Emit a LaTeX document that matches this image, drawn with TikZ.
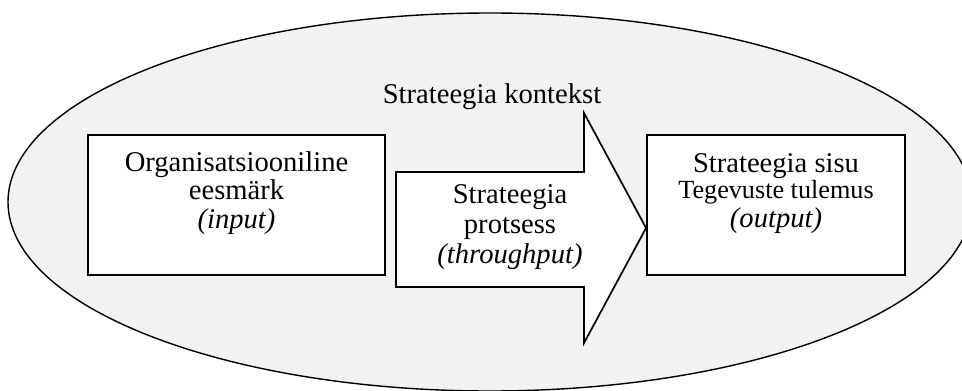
\documentclass[tikz,border=0pt]{standalone}
\usepackage{fontspec}
\setmainfont{Liberation Serif}
\usetikzlibrary{shapes.geometric}
\definecolor{ctxgray}{HTML}{F2F2F2}
\begin{document}
\begin{tikzpicture}[x=1pt,y=-1pt,
  framebox/.style={draw,fill=white,rectangle,inner sep=0pt,line width=1.9pt},
  txt/.style={inner sep=0pt,anchor=base,align=center,
    font=\fontsize{28.6}{28.5}\selectfont}]
\useasboundingbox (0,0) rectangle (962,391);
\clip (0,0) rectangle (962,391);

% strategy context: the surrounding ellipse
\node (ctx) [draw,ellipse,fill=ctxgray,inner sep=0pt,line width=1.4pt,
  minimum width=964pt,minimum height=378pt] at (490,202) {};
\node (ctxlabel) [txt] at (492,103) {Strateegia kontekst};

% input box
\node (goal) [framebox,minimum width=297pt,minimum height=140pt] at (236.5,205) {};
\node (goaltxt) [txt] at (236.5,228) {Organisatsiooniline\\eesmärk\\\textit{(input)}};

% output box
\node (content) [framebox,minimum width=258pt,minimum height=140pt] at (776,205) {};
\node (contenttxt) [txt] at (776,227)
  {Strateegia sisu\\[-2.5pt]{\fontsize{26.2}{26.2}\selectfont Tegevuste tulemus}\\[0.5pt]\textit{(output)}};

% process arrow pointing into the output box
\coordinate (tip) at (content.west |- 0,228);
\draw[fill=white,line width=1.7pt,line join=miter]
  (396,172) -- (584,172) -- (584,113) -- (tip) -- (584,343) -- (584,287)
  -- (396,287) -- cycle;
\node (proctxt) [txt,font=\fontsize{28.6}{30}\selectfont] at (510,263)
  {Strateegia\\protsess\\\textit{(throughput)}};
\end{tikzpicture}
\end{document}
